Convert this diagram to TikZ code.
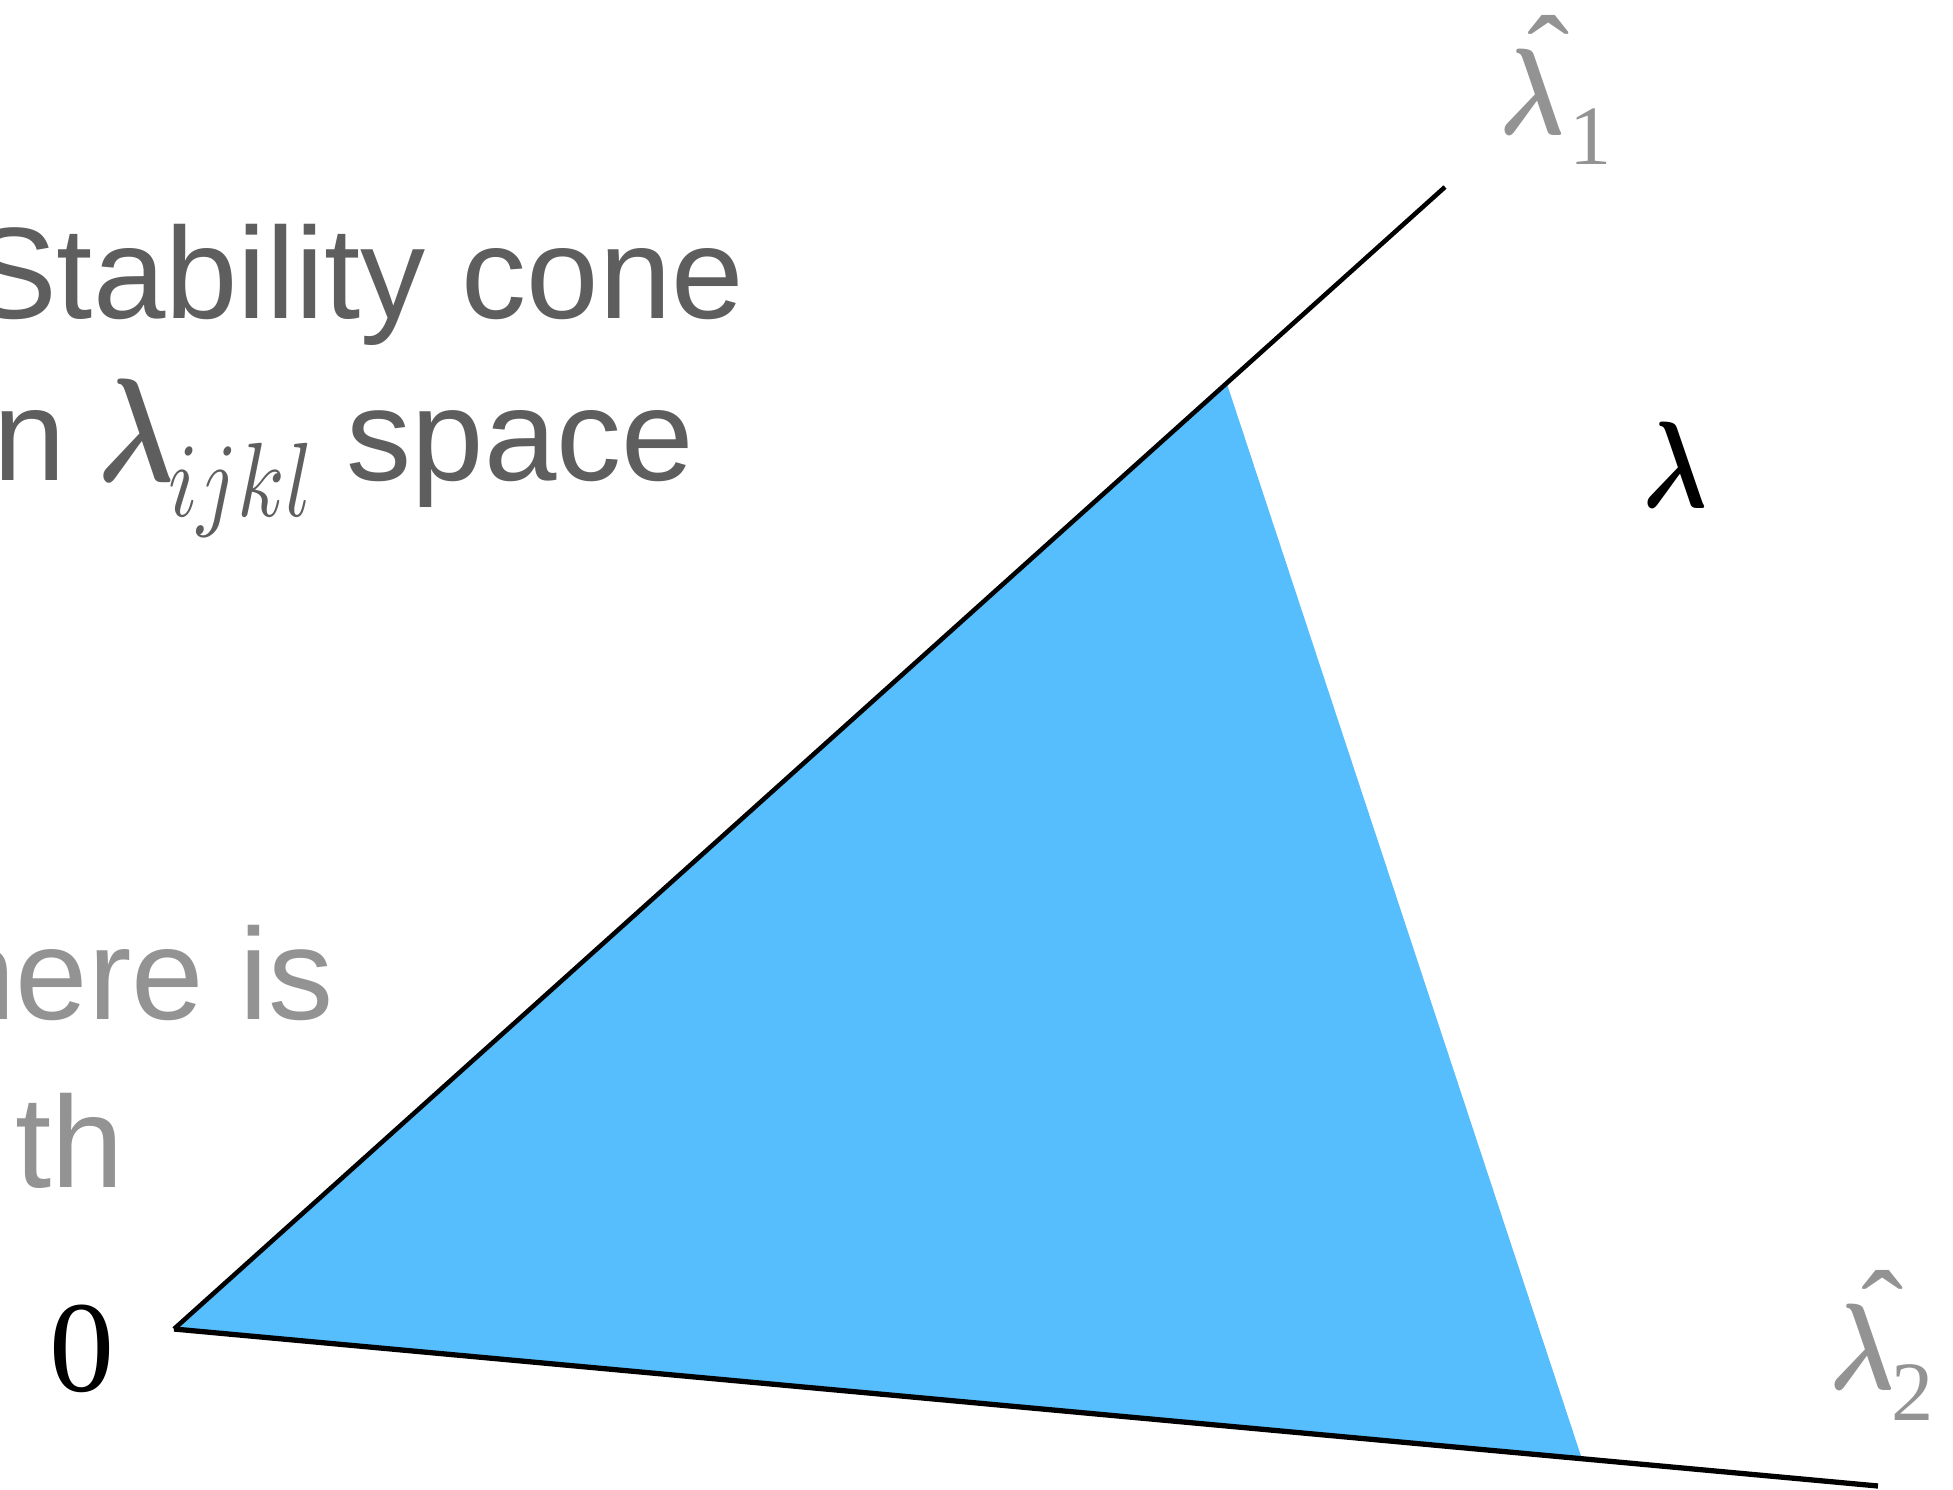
\documentclass[tikz,border=0pt]{standalone}
\usepackage{fontspec}
\usepackage{amsmath}
\usepackage{graphicx}
\setmainfont{Liberation Sans}
\newfontfamily\tms{Liberation Serif}
\definecolor{conefill}{RGB}{86,190,253}
\definecolor{darktext}{RGB}{94,94,94}
\definecolor{lighttext}{RGB}{147,147,147}
\begin{document}
\begin{tikzpicture}[x=0.01cm,y=-0.01cm,
  lbl/.style={inner sep=0pt,outer sep=0pt},
  sanslbl/.style={lbl,font=\fontsize{37pt}{44pt}\selectfont},
  hatlbl/.style={lbl,anchor=north,text=lighttext,font=\tms\fontsize{36pt}{40pt}\selectfont},
  axisline/.style={line width=1.3pt,black,line cap=butt}]
\useasboundingbox (0,0) rectangle (1953,1490);
\clip (0,0) rectangle (1953,1490);
% key points
\coordinate (O) at (174,1329);
\coordinate (A) at (1445,187);
\coordinate (B) at (1878,1486);
\coordinate (P) at (1227,384);
\coordinate (Q) at (1582,1459);
% cone
\fill[conefill] (O) -- (P) -- (Q) -- cycle;
\draw[axisline] (O) -- (A);
\draw[axisline,line width=1.5pt] (O) -- (B);
% texts
\node[sanslbl,text=darktext,anchor=base east] (t1) at (744,318) {Stability cone};
\node[sanslbl,text=darktext,anchor=base west] (t2a) at (-6,480) {n};
\node[lbl,text=darktext,anchor=base west] (t2b) at (98,481) {\scalebox{3.2}[4.2]{$\boldsymbol{\lambda}$}};
\node[lbl,text=darktext,anchor=base west] (t2c) at (168,516) {\scalebox{2.45}[3.0]{$ijkl$}};
\node[sanslbl,text=darktext,anchor=base east] (t2d) at (694,480) {space};
\node[sanslbl,text=lighttext,anchor=base east] (t3) at (334,1019) {here is};
\node[sanslbl,text=lighttext,anchor=base east] (t4) at (124,1187) {th};
% labels
\node[lbl,anchor=base west,text=lighttext] (l1) at (1500,134) {\scalebox{2.7}[3.5]{$\boldsymbol{\lambda}$}};
\node[hatlbl] (l1h) at (1549,15) {ˆ};
\node[lbl,anchor=base west,text=lighttext,font=\tms\fontsize{24pt}{28pt}\selectfont] (l1s) at (1569,164) {1};
\node[lbl,anchor=base west,text=lighttext] (l2) at (1830,1389) {\scalebox{2.7}[3.5]{$\boldsymbol{\lambda}$}};
\node[hatlbl] (l2h) at (1883,1270) {ˆ};
\node[lbl,anchor=base west,text=lighttext,font=\tms\fontsize{24pt}{28pt}\selectfont] (l2s) at (1891,1420) {2};
\node[lbl,anchor=base west,text=black] (lam) at (1643,507) {\scalebox{2.7}[3.5]{$\boldsymbol{\lambda}$}};
\node[lbl,anchor=base west,text=black,font=\tms\fontsize{37pt}{40pt}\selectfont] (zero) at (49,1391) {0};
\end{tikzpicture}
\end{document}
